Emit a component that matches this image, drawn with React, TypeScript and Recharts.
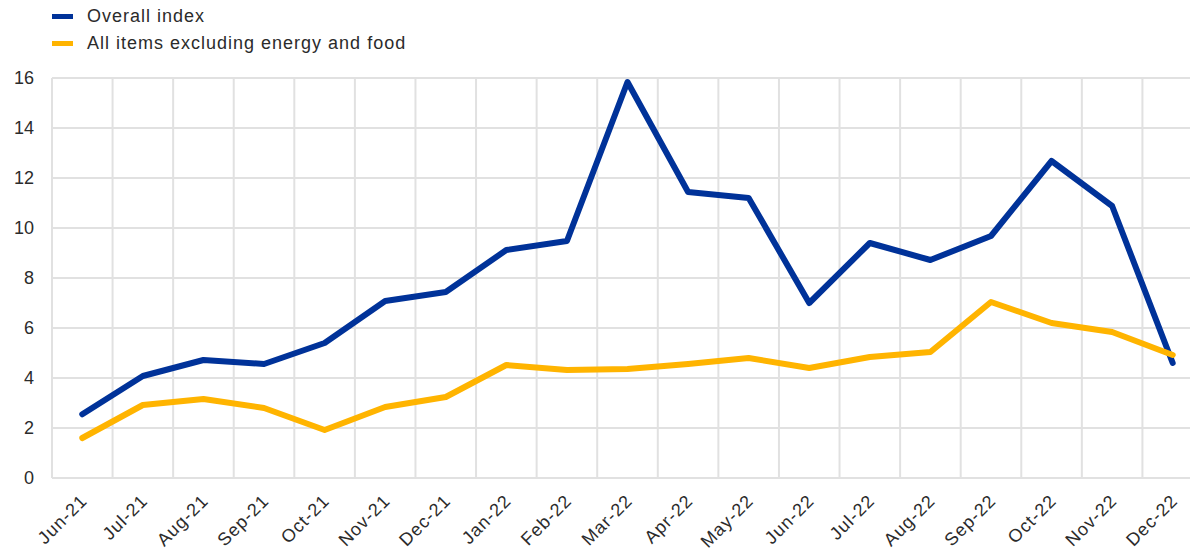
import { LineChart, Line, XAxis, YAxis, CartesianGrid } from "recharts"

const months = [
  "Jun-21", "Jul-21", "Aug-21", "Sep-21", "Oct-21", "Nov-21", "Dec-21",
  "Jan-22", "Feb-22", "Mar-22", "Apr-22", "May-22", "Jun-22", "Jul-22",
  "Aug-22", "Sep-22", "Oct-22", "Nov-22", "Dec-22",
]

const overallIndex = [
  2.55, 4.08, 4.72, 4.56, 5.4, 7.08, 7.44, 9.12, 9.48, 15.84,
  11.44, 11.2, 7.0, 9.4, 8.72, 9.68, 12.68, 10.88, 4.6,
]

const excludingEnergyFood = [
  1.6, 2.92, 3.16, 2.8, 1.92, 2.84, 3.24, 4.52, 4.32, 4.36,
  4.56, 4.8, 4.4, 4.84, 5.04, 7.04, 6.2, 5.84, 4.92,
]

const yTicks = [0, 2, 4, 6, 8, 10, 12, 14, 16]

const BLUE = "#003299"
const YELLOW = "#FFB400"
const GRID = "#e1e1e1"
const TEXT = "#2b2b2b"
const FONT = "'Liberation Sans', Arial, sans-serif"

const data = months.map((m, i) => ({
  month: m,
  overall: overallIndex[i],
  core: excludingEnergyFood[i],
}))

const legendItems = [
  { label: "Overall index", color: BLUE },
  { label: "All items excluding energy and food", color: YELLOW },
]

function MonthTick({ x, y, payload }: any) {
  const ax = x + 6
  const ay = y + 16
  return (
    <text
      x={ax}
      y={ay}
      transform={`rotate(-45 ${ax} ${ay})`}
      textAnchor="end"
      fontSize={18}
      fontFamily={FONT}
      letterSpacing={1}
      fill={TEXT}
    >
      {payload.value}
    </text>
  )
}

export default function App() {
  return (
    <div
      style={{
        position: "fixed",
        left: 0,
        top: 0,
        width: 1190,
        height: 552,
        overflow: "hidden",
        background: "#fff",
        fontFamily: FONT,
      }}
    >
      <div style={{ position: "absolute", left: 52, top: 3 }}>
        {legendItems.map((item) => (
          <div
            key={item.label}
            style={{ display: "flex", alignItems: "center", height: 27 }}
          >
            <span
              style={{
                display: "inline-block",
                width: 21,
                height: 5,
                background: item.color,
                marginRight: 14,
              }}
            />
            <span style={{ fontSize: 18, letterSpacing: 1, color: TEXT }}>
              {item.label}
            </span>
          </div>
        ))}
      </div>
      <LineChart
        width={1210}
        height={552}
        data={data}
        margin={{ top: 78, right: 7, left: 0, bottom: 0 }}
      >
        <CartesianGrid
          stroke={GRID}
          strokeWidth={2}
          verticalCoordinatesGenerator={({ offset }: any) =>
            months.map((_, i) => offset.left + (i * offset.width) / months.length)
          }
        />
        <XAxis
          dataKey="month"
          scale="band"
          interval={0}
          height={74}
          tickLine={false}
          axisLine={{ stroke: GRID, strokeWidth: 2 }}
          tick={<MonthTick />}
        />
        <YAxis
          width={52}
          domain={[0, 16]}
          ticks={yTicks}
          axisLine={false}
          tickLine={false}
          tickMargin={12}
          tick={{ fontSize: 18, fill: TEXT, fontFamily: FONT }}
        />
        <Line
          dataKey="overall"
          stroke={BLUE}
          strokeWidth={6}
          strokeLinejoin="round"
          strokeLinecap="round"
          dot={false}
          type="linear"
          isAnimationActive={false}
        />
        <Line
          dataKey="core"
          stroke={YELLOW}
          strokeWidth={6}
          strokeLinejoin="round"
          strokeLinecap="round"
          dot={false}
          type="linear"
          isAnimationActive={false}
        />
      </LineChart>
    </div>
  )
}
